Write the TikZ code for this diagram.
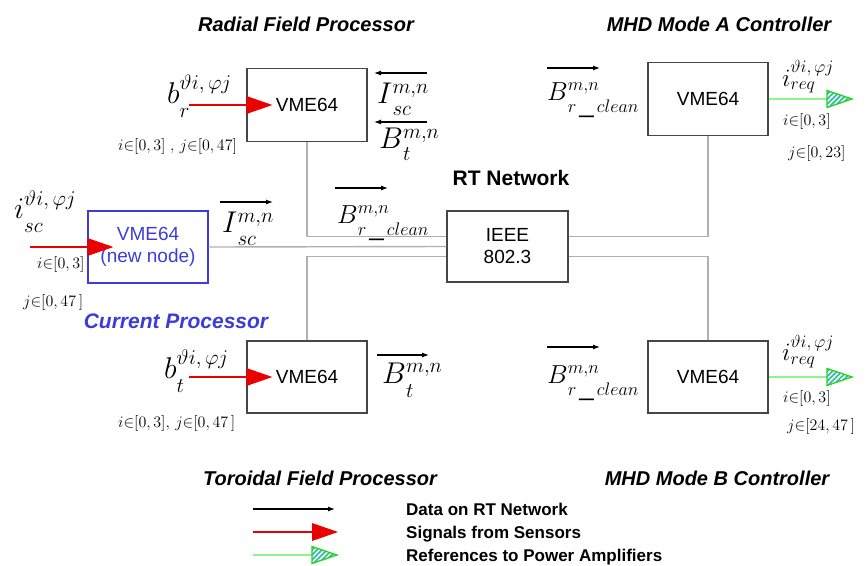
\RequirePackage{fix-cm}
\documentclass[tikz,border=0pt]{standalone}
\usepackage[no-math]{fontspec}
\setmainfont{Liberation Sans}
\usetikzlibrary{arrows.meta,patterns.meta}
\definecolor{netgray}{RGB}{176,176,176}
\definecolor{boxgray}{RGB}{70,70,70}
\definecolor{newblue}{RGB}{60,60,215}
\definecolor{sigred}{RGB}{235,0,0}
\definecolor{refgreen}{RGB}{140,245,140}
\definecolor{tribord}{RGB}{30,215,30}
\definecolor{hatch}{RGB}{60,185,165}
\newlength\mlwa
\newlength\mlwb
% main symbol, superscript, subscript, raise of sup, drop of sub
\newcommand\mlb[5]{%
  \settowidth\mlwa{$\scriptstyle #2$}\settowidth\mlwb{$\scriptstyle #3$}%
  $#1$\rlap{\raisebox{#4}{$\scriptstyle #2$}}\raisebox{-#5}{$\scriptstyle #3$}%
  \ifdim\mlwa>\mlwb\hspace{\dimexpr\mlwa-\mlwb\relax}\fi}
\tikzset{
  box/.style={draw=boxgray, line width=1.2pt, minimum width=120pt, minimum height=73pt, inner sep=0pt, font=\fontsize{19}{22}\selectfont, align=center},
  newbox/.style={box, draw=newblue, text=newblue},
  net/.style={draw=netgray, line width=1.4pt},
  sig/.style={draw=sigred, line width=1.4pt, -{Triangle[length=26pt,width=18pt,line width=0pt,fill=sigred]}},
  data/.style={draw=black, line width=1.2pt, -{Latex[length=7pt,width=5pt]}},
  reff/.style={draw=refgreen, line width=1.4pt},
  title/.style={font=\fontsize{20}{24}\selectfont\bfseries\itshape, anchor=base, inner sep=0pt},
  mlab/.style={anchor=base west, inner sep=0pt, font=\fontsize{30}{32}\selectfont},
  mlabs/.style={anchor=base west, inner sep=0pt, font=\fontsize{26}{28}\selectfont},
  mlabr/.style={anchor=base west, inner sep=0pt, font=\fontsize{25}{27}\selectfont},
  idx/.style={anchor=base west, inner sep=0pt, font=\fontsize{16}{18}\selectfont},
  leg/.style={anchor=base west, inner sep=0pt, font=\fontsize{17}{20}\selectfont\bfseries},
  reftri/.pic={
    \path[fill=white] (0,-8.5) -- (25,0) -- (0,8.5) -- cycle;
    \path[pattern={Lines[angle=45,distance=3.5pt,line width=1.8pt]}, pattern color=hatch] (0,-8.5) -- (25,0) -- (0,8.5) -- cycle;
    \draw[tribord, line width=1.3pt, line join=miter] (0,-8.5) -- (25,0) -- (0,8.5) -- cycle;
  }
}
\begin{document}
\begin{tikzpicture}[x=1pt,y=-1pt]
\useasboundingbox (0,0) rectangle (866,565);

% boxes
\node[box] (rad) at (307,105) {VME64};
\node[newbox, minimum height=72pt] (new) at (148,247) {VME64\\(new node)};
\node[box, minimum height=72pt] (tor) at (307,377) {VME64};
\node[box] (mhda) at (708,99) {VME64};
\node[box, minimum height=72pt] (mhdb) at (708,377) {VME64};
\node[box, minimum width=121pt, minimum height=71pt] (ieee) at (507.5,246.5) {IEEE\\802.3};

% network
\draw[net] (rad.south) |- ([yshift=10pt]ieee.west);
\draw[net] (new.east) -- (ieee.west);
\draw[net] (tor.north) |- ([yshift=-10pt]ieee.west);
\draw[net] ([yshift=10pt]ieee.east) -| (mhda.south);
\draw[net] ([yshift=-10pt]ieee.east) -| (mhdb.north);

% titles
\node[title] (t1) at (306,31) {Radial Field Processor};
\node[title] (t2) at (719,31) {MHD Mode A Controller};
\node[title, font=\fontsize{21}{24}\selectfont\bfseries] (t3) at (511,185) {RT Network};
\node[title, text=newblue, font=\fontsize{21}{24}\selectfont\bfseries\itshape] (t4) at (176,328) {Current Processor};
\node[title] (t5) at (320,485) {Toroidal Field Processor};
\node[title] (t6) at (717,485) {MHD Mode B Controller};

% sensor signals
\coordinate (sr) at (189,105);
\coordinate (sn) at (30,247);
\coordinate (st) at (189,377);
\draw[sig] (sr) -- ([xshift=26pt]rad.west);
\draw[sig] (sn) -- ([xshift=26pt]new.west);
\draw[sig] (st) -- ([xshift=26pt]tor.west);

% references
\coordinate (ga) at (827,99);
\coordinate (gb) at (827,377);
\draw[reff] (mhda.east) -- (ga);
\draw[reff] (mhdb.east) -- (gb);
\pic at (ga) {reftri};
\pic at (gb) {reftri};

% data arrows
\coordinate (d1a) at (427,73);  \coordinate (d1b) at (374,73);
\coordinate (d2a) at (427,122); \coordinate (d2b) at (374,122);
\coordinate (d3a) at (220,202); \coordinate (d3b) at (273,202);
\coordinate (d4a) at (335,188); \coordinate (d4b) at (388,188);
\coordinate (d5a) at (377,355); \coordinate (d5b) at (429,355);
\coordinate (d6a) at (547,68);  \coordinate (d6b) at (600,68);
\coordinate (d7a) at (547,347); \coordinate (d7b) at (600,347);
\draw[data] (d1a) -- (d1b);
\draw[data] (d2a) -- (d2b);
\draw[data] (d3a) -- (d3b);
\draw[data] (d4a) -- (d4b);
\draw[data] (d5a) -- (d5b);
\draw[data] (d6a) -- (d6b);
\draw[data] (d7a) -- (d7b);

% math labels
\node[mlab] (lbr) at (167,103) {\mlb{b}{\vartheta i,\,\varphi j}{r}{14pt}{14pt}};
\node[mlab] (lis1) at (377,103) {\mlb{I}{m,n}{sc}{10pt}{12pt}};
\node[mlab] (lbt1) at (379,148) {\mlb{B}{m,n}{t}{10pt}{12pt}};
\node[mlab] (lisc) at (14,218) {\mlb{i}{\vartheta i,\,\varphi j}{sc}{13pt}{14pt}};
\node[mlab] (lis2) at (222,232) {\mlb{I}{m,n}{sc}{10pt}{13pt}};
\node[mlabs] (lbrc1) at (337,223) {\mlb{B}{m,n}{r\,\_\,clean}{10pt}{12pt}};
\node[mlab] (lbt) at (164,378) {\mlb{b}{\vartheta i,\,\varphi j}{t}{14pt}{14pt}};
\node[mlab] (lbt2) at (382,383) {\mlb{B}{m,n}{t}{11pt}{14pt}};
\node[mlabs] (lbrc2) at (547,100) {\mlb{B}{m,n}{r\,\_\,clean}{10pt}{12pt}};
\node[mlabs] (lbrc3) at (547,383) {\mlb{B}{m,n}{r\,\_\,clean}{10pt}{12pt}};
\node[mlabr] (lir1) at (782,86) {\mlb{i}{\vartheta i,\,\varphi j}{req}{14pt}{3pt}};
\node[mlabr] (lir2) at (782,360) {\mlb{i}{\vartheta i,\,\varphi j}{req}{13pt}{4pt}};

% index labels
\node[idx] (x1) at (118,150) {$i{\in}[0,3]\;,\, j{\in}[0,47]$};
\node[idx] (x2) at (37,268) {$i{\in}[0,3]$};
\node[idx] (x3) at (23,306) {$j{\in}[0,47\,]$};
\node[idx] (x4) at (118,427) {$i{\in}[0,3],\, j{\in}[0,47\,]$};
\node[idx] (x5) at (783,125) {$i{\in}[0,3]$};
\node[idx] (x6) at (788,157) {$j{\in}[0,23]$};
\node[idx] (x7) at (783,402) {$i{\in}[0,3]$};
\node[idx] (x8) at (787,430) {$j{\in}[24,47\,]$};

% legend
\coordinate (l1a) at (253,509); \coordinate (l1b) at (335,509);
\coordinate (l2a) at (253,532); \coordinate (l2b) at (338,532);
\coordinate (l3a) at (253,555); \coordinate (l3b) at (312,555);
\draw[data] (l1a) -- (l1b);
\draw[sig] (l2a) -- (l2b);
\draw[reff] (l3a) -- (l3b);
\pic at (l3b) {reftri};
\node[leg] (g1) at (406,515) {Data on RT Network};
\node[leg] (g2) at (406,538) {Signals from Sensors};
\node[leg] (g3) at (406,561) {References to Power Amplifiers};
\end{tikzpicture}
\end{document}
